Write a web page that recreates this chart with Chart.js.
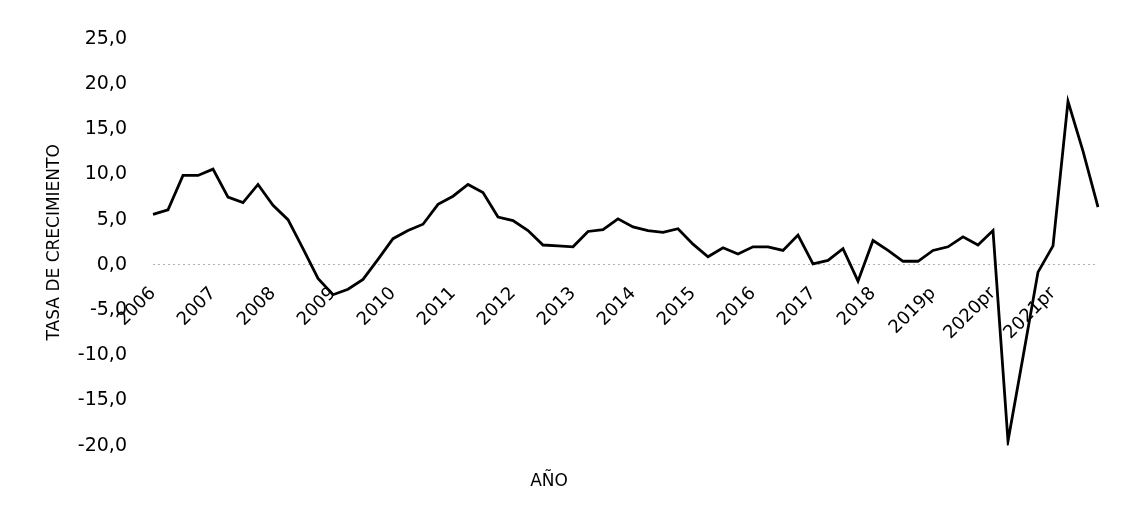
<!DOCTYPE html>
<html>
<head>
<meta charset="utf-8">
<script src="https://cdn.jsdelivr.net/npm/chart.js@4.4.0/dist/chart.umd.min.js"></script>
<style>
  body { margin: 0; background: #fff; }
</style>
</head>
<body>
<canvas id="graf_pib" width="1138" height="531"></canvas>
<script>
const anios = ['2006', '2007', '2008', '2009', '2010', '2011', '2012', '2013',
  '2014', '2015', '2016', '2017', '2018', '2019p', '2020pr', '2021pr'];
const trimestres = ['I', 'II', 'III', 'IV'];
const tasa = [
  5.6, 6.1, 9.9, 9.9, 10.6, 7.5, 6.9, 8.9,
  6.6, 5.0, 1.8, -1.5, -3.3, -2.7, -1.6, 0.6,
  2.9, 3.8, 4.5, 6.7, 7.6, 8.9, 8.0, 5.3,
  4.9, 3.8, 2.2, 2.1, 2.0, 3.7, 3.9, 5.1,
  4.2, 3.8, 3.6, 4.0, 2.3, 0.9, 1.9, 1.2,
  2.0, 2.0, 1.6, 3.3, 0.1, 0.5, 1.8, -1.8,
  2.7, 1.6, 0.4, 0.4, 1.6, 2.0, 3.1, 2.2,
  3.8, -19.5, -10.2, -0.8, 2.1, 18.1, 12.6, 6.4
];

// una etiqueta por trimestre, solo se muestra el año en el primero
const etiquetas = [];
anios.forEach(a => trimestres.forEach(t => etiquetas.push(a + ' ' + t)));

Chart.defaults.font.family = 'DejaVu Sans';
Chart.defaults.color = '#000';

const ctx = document.getElementById('graf_pib');

const graf_pib = new Chart(ctx, {
  type: 'line',
  data: {
    labels: etiquetas,
    datasets: [{
      label: 'Tasa de crecimiento',
      data: tasa,
      borderColor: '#000',
      borderWidth: 2.8,
      pointRadius: 0,
      tension: 0,
      fill: false
    }]
  },
  options: {
    responsive: false,
    animation: false,
    layout: {
      padding: { left: 0, right: 40, top: 39, bottom: 39 }
    },
    plugins: {
      legend: { display: false },
      tooltip: { enabled: false },
      title: {
        display: true,
        position: 'bottom',
        text: 'AÑO',
        font: { size: 17, weight: 'normal' },
        padding: { top: 26, bottom: 0 }
      }
    },
    scales: {
      x: {
        position: { y: 0 },
        grid: { display: false },
        border: { display: false },
        ticks: {
          autoSkip: false,
          minRotation: 45,
          maxRotation: 45,
          padding: 10,
          font: { size: 18 },
          callback: (v, i) => i % 4 === 0 ? anios[i / 4] : ''
        },
        afterFit: s => { s.height = 30; }
      },
      y: {
        min: -20,
        max: 25,
        grid: {
          drawTicks: false,
          color: c => c.tick && c.tick.value === 0 ? '#b0b0b0' : 'transparent'
        },
        border: { display: false, dash: [2, 3] },
        ticks: {
          stepSize: 5,
          padding: 26,
          font: { size: 19 },
          callback: v => v.toFixed(1).replace('.', ',')
        },
        title: {
          display: true,
          text: 'TASA DE CRECIMIENTO',
          font: { size: 17 },
          padding: { top: 44, bottom: 0 }
        },
        afterFit: s => { s.width = 153; }
      }
    }
  }
});
</script>
</body>
</html>
